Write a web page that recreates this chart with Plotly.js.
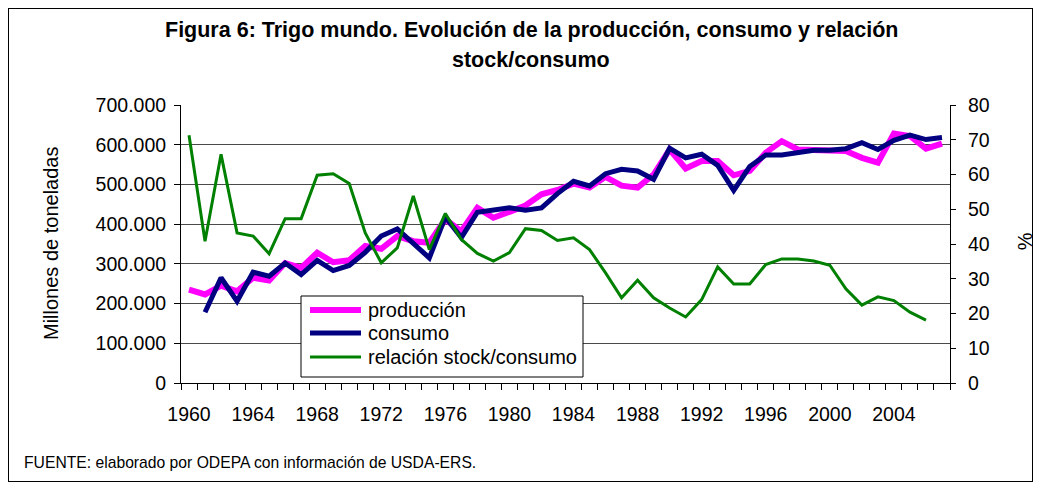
<!DOCTYPE html>
<html>
<head>
<meta charset="utf-8">
<script src="https://cdn.plot.ly/plotly-3.0.1.min.js"></script>
<style>
  html, body { margin: 0; padding: 0; background: #fff; }
  #wrap { position: relative; width: 1041px; height: 489px; }
  #chart { position: absolute; left: 0; top: 0; width: 1041px; height: 489px; }
  #frame { position: absolute; left: 8px; top: 8px; width: 1023px; height: 472px; border: 1px solid #000; pointer-events: none; }
</style>
</head>
<body>
<div id="wrap">
  <div id="chart"></div>
  <div id="frame"></div>
</div>
<script>
// Years 1960-2007
const years = [1960,1961,1962,1963,1964,1965,1966,1967,1968,1969,
               1970,1971,1972,1973,1974,1975,1976,1977,1978,1979,
               1980,1981,1982,1983,1984,1985,1986,1987,1988,1989,
               1990,1991,1992,1993,1994,1995,1996,1997,1998,1999,
               2000,2001,2002,2003,2004,2005,2006,2007];

const produccion = [235000,223000,245000,231000,265000,258000,302000,290000,328000,304000,
                    309000,345000,338000,370000,357000,353000,412000,382000,441000,416000,
                    431000,447000,475000,486000,502000,492000,519000,497000,492000,525000,
                    588000,540000,559000,559000,523000,534000,580000,609000,588000,586000,
                    584000,584000,567000,555000,628000,622000,590000,603000];

const consumo = [null,178000,265000,206000,279000,269000,302000,273000,309000,283000,
                 296000,329000,370000,388000,353000,315000,418000,366000,430000,435000,
                 441000,435000,441000,477000,508000,496000,527000,538000,534000,513000,
                 591000,567000,576000,548000,485000,545000,574000,574000,580000,586000,
                 586000,590000,605000,588000,611000,624000,613000,618000];

const relacion = [71.3,40.8,65.8,43.2,42.3,37.2,47.3,47.3,59.8,60.2,
                  57.4,43.2,34.6,38.9,53.8,38.4,48.8,41.3,37.3,35.1,
                  37.5,44.4,43.9,41.0,41.8,38.4,31.7,24.5,29.6,24.5,
                  21.6,19.0,24.0,33.4,28.5,28.5,34.1,35.7,35.7,35.1,
                  33.9,27.1,22.4,24.8,23.7,20.4,18.1,null];

const xTickLabels = ['1960','1964','1968','1972','1976','1980','1984','1988','1992','1996','2000','2004'];
const xTickVals = [1960,1964,1968,1972,1976,1980,1984,1988,1992,1996,2000,2004];

const seriesNames = ['producción','consumo','relación stock/consumo'];
const seriesColors = ['#FF00FF','#000080','#008000'];
const seriesWidths = [6, 5, 3];
const titleLine1 = 'Figura 6: Trigo mundo. Evolución de la producción, consumo y relación';
const titleLine2 = 'stock/consumo';
const yTitle = 'Millones de toneladas';
const y2Title = '%';
const fuente = 'FUENTE: elaborado por ODEPA con información de USDA-ERS.';

const FONT = '"Liberation Sans", Arial, sans-serif';

// plot area in pixels: x 181..950, y 105..383
const PL = 181, PR = 950, PT = 105, PB = 383;
const px = v => (v - PL) / (PR - PL);
const py = v => (PB - v) / (PB - PT);

const traces = [
  { x: years, y: produccion, name: seriesNames[0], type: 'scatter', mode: 'lines',
    line: { color: seriesColors[0], width: seriesWidths[0] }, yaxis: 'y' },
  { x: years, y: consumo, name: seriesNames[1], type: 'scatter', mode: 'lines',
    line: { color: seriesColors[1], width: seriesWidths[1] }, yaxis: 'y' },
  { x: years, y: relacion, name: seriesNames[2], type: 'scatter', mode: 'lines',
    line: { color: seriesColors[2], width: seriesWidths[2] }, yaxis: 'y2' }
];

// legend (drawn as box + sample lines + labels)
const legendShapes = [
  { type: 'rect', xref: 'paper', yref: 'paper', x0: px(301), x1: px(583), y0: py(377), y1: py(296),
    line: { color: '#000', width: 1 }, fillcolor: '#fff', layer: 'above' }
];
const legendRows = [310, 333, 357];
const legendAnn = [];
seriesNames.forEach((n, i) => {
  legendShapes.push({ type: 'line', xref: 'paper', yref: 'paper', x0: px(310), x1: px(361),
    y0: py(legendRows[i]), y1: py(legendRows[i]),
    line: { color: seriesColors[i], width: seriesWidths[i] }, layer: 'above' });
  legendAnn.push({ text: n, xref: 'paper', yref: 'paper', x: px(366), y: py(legendRows[i]),
    xanchor: 'left', yanchor: 'middle', showarrow: false, font: { family: FONT, size: 20, color: '#000' } });
});

const layout = {
  width: 1041, height: 489,
  margin: { l: 181, r: 91, t: 105, b: 106, pad: 0 },
  paper_bgcolor: '#fff', plot_bgcolor: '#fff',
  separators: ',.',
  font: { family: FONT, size: 19, color: '#000' },
  showlegend: false,
  xaxis: {
    type: 'linear', range: [1959.5, 2007.5],
    tickmode: 'array', tickvals: xTickVals, ticktext: xTickLabels,
    ticks: '', showgrid: false, zeroline: false,
    showline: true, linecolor: '#000', linewidth: 1,
    ticklabelstandoff: 14,
    tickfont: { family: FONT, size: 19.5 },
    minor: { tickmode: 'linear', tick0: 1959.5, dtick: 1, ticks: 'outside', ticklen: 6, tickcolor: '#000', showgrid: false }
  },
  yaxis: {
    range: [0, 700000], dtick: 100000, tick0: 0, tickformat: ',d',
    showgrid: true, gridcolor: '#4a4a4a', gridwidth: 1,
    zeroline: false, showline: true, linecolor: '#000', linewidth: 1,
    ticks: 'outside', ticklen: 6, tickcolor: '#000',
    ticklabelstandoff: 4,
    tickfont: { family: FONT, size: 19.5 }
  },
  yaxis2: {
    overlaying: 'y', side: 'right', range: [0, 80], dtick: 10, tick0: 0,
    showgrid: false, zeroline: false, showline: true, linecolor: '#000', linewidth: 1,
    ticks: 'outside', ticklen: 5, tickcolor: '#000',
    ticklabelstandoff: 8,
    tickfont: { family: FONT, size: 19.5 }
  },
  shapes: legendShapes,
  annotations: [
    { text: '<b>' + titleLine1 + '</b>', xref: 'paper', yref: 'paper', x: px(531), y: py(30),
      xanchor: 'center', yanchor: 'middle', showarrow: false, font: { family: FONT, size: 21.5 } },
    { text: '<b>' + titleLine2 + '</b>', xref: 'paper', yref: 'paper', x: px(531), y: py(60),
      xanchor: 'center', yanchor: 'middle', showarrow: false, font: { family: FONT, size: 21.5 } },
    { text: yTitle, xref: 'paper', yref: 'paper', x: px(51), y: 0.5, textangle: -90,
      xanchor: 'center', yanchor: 'middle', showarrow: false, font: { family: FONT, size: 20 } },
    { text: y2Title, xref: 'paper', yref: 'paper', x: px(1025), y: 0.51, textangle: -90,
      xanchor: 'center', yanchor: 'middle', showarrow: false, font: { family: FONT, size: 20 } },
    { text: fuente, xref: 'paper', yref: 'paper', x: px(22), y: py(462),
      xanchor: 'left', yanchor: 'middle', showarrow: false, font: { family: FONT, size: 15.7 } }
  ].concat(legendAnn)
};

Plotly.newPlot('chart', traces, layout, { displayModeBar: false, staticPlot: true });
</script>
</body>
</html>
